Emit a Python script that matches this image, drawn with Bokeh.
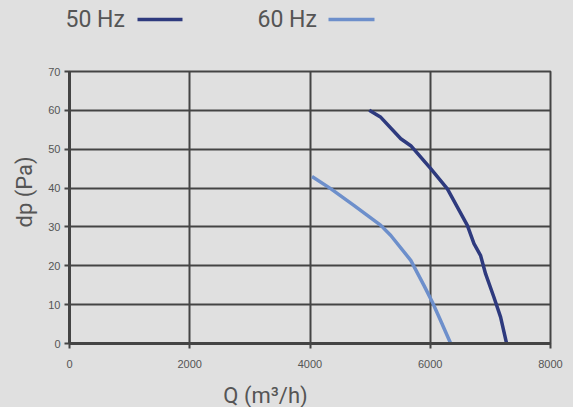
from bokeh.plotting import figure
from bokeh.layouts import column
from bokeh.models import FixedTicker, Range1d, Title
from bokeh.core.properties import value
from bokeh.embed import file_html
from bokeh.resources import INLINE

q_50 = [4985, 5178, 5510, 5676, 6008, 6285, 6451, 6617, 6727, 6838, 6921, 7059, 7170, 7270]
dp_50 = [60, 58.2, 52.7, 50.9, 45, 39.8, 35.1, 30.4, 25.7, 22.6, 17.9, 11.9, 6.8, 0]
q_60 = [4033, 4349, 4735, 5178, 5344, 5676, 5897, 6036, 6146, 6340]
dp_60 = [43, 39.8, 35.5, 30.4, 27.8, 21.4, 14.9, 10.6, 6.8, 0]

series_names = ["50 Hz", "60 Hz"]
series_colors = ["#2e3a7e", "#6d8fcb"]
x_ticks = [0, 2000, 4000, 6000, 8000]
y_ticks = [0, 10, 20, 30, 40, 50, 60, 70]
x_label = "Q (m³/h)"
y_label = "dp (Pa)"

BG = "#e0e0e0"
GRID = "#444444"
TXT = "#555555"
W = 573
LEG_H = 40
BOT_H = 29
MAIN_H = 407 - LEG_H - BOT_H


def strip(height):
    f = figure(width=W, height=height, output_backend="svg", toolbar_location=None,
               x_axis_location=None, y_axis_location=None,
               min_border=0, min_border_left=0, min_border_right=0,
               min_border_top=0, min_border_bottom=0)
    f.grid.visible = False
    f.outline_line_color = None
    f.background_fill_color = BG
    f.border_fill_color = BG
    aligned = True
    try:
        f.frame_align = False
        aligned = False
    except Exception:
        pass
    if aligned:
        f.x_range = Range1d(68, W - 23)
    else:
        f.x_range = Range1d(0, W)
    f.y_range = Range1d(height, 0)
    return f


# ---- legend strip (pixel-like coordinates) ----
leg = strip(LEG_H)
leg_text_x = [65, 257]
leg_line_x0 = [137, 328]
leg_line_x1 = [182, 374]
leg_y = [19, 19]
leg.text(x=leg_text_x, y=leg_y, text=series_names, text_font=value("Roboto"),
         text_font_size="23px", text_color=TXT, text_baseline="middle", text_align="left")
leg.segment(x0=leg_line_x0, y0=leg_y, x1=leg_line_x1, y1=leg_y,
            line_color=series_colors, line_width=3.5)

# ---- x axis title strip ----
bot = strip(BOT_H)
bot.text(x=[265], y=[17], text=[x_label], text_font=value("Roboto"),
         text_font_size="22px", text_color=TXT, text_baseline="middle", text_align="center")

# ---- main chart ----
p = figure(width=W, height=MAIN_H, output_backend="svg", toolbar_location=None,
           x_range=Range1d(0, 8000), y_range=Range1d(0, 70),
           min_border_left=68, min_border_right=23, min_border_top=71 - LEG_H,
           min_border_bottom=MAIN_H - (71 - LEG_H) - 272)
try:
    p.frame_align = False
except Exception:
    pass
p.background_fill_color = BG
p.border_fill_color = BG
p.outline_line_color = GRID
p.outline_line_width = 2

for ax in (p.xaxis[0], p.yaxis[0]):
    ax.axis_line_color = GRID
    ax.axis_line_width = 3
    ax.major_tick_line_color = GRID
    ax.major_tick_line_width = 2
    ax.major_tick_out = 5
    ax.major_tick_in = 0
    ax.minor_tick_line_color = None
    ax.major_label_text_color = TXT
    ax.major_label_text_font = "Liberation Sans"
    ax.major_label_text_font_size = "11px"
p.xaxis[0].ticker = FixedTicker(ticks=x_ticks)
p.yaxis[0].ticker = FixedTicker(ticks=y_ticks)
p.xaxis[0].major_label_standoff = 11
p.yaxis[0].major_label_standoff = 4

p.xgrid.ticker = FixedTicker(ticks=x_ticks)
p.ygrid.ticker = FixedTicker(ticks=y_ticks)
for g in (p.xgrid[0], p.ygrid[0]):
    g.grid_line_color = GRID
    g.grid_line_width = 2

p.line(q_50, dp_50, line_color=series_colors[0], line_width=3.5)
p.line(q_60, dp_60, line_color=series_colors[1], line_width=3.5)

p.add_layout(Title(text=y_label, align="left", offset=116, text_font="Roboto",
                   text_font_size="22px", text_color=TXT, text_font_style="normal",
                   standoff=18), "left")

html = file_html(column(leg, p, bot, spacing=0), INLINE)
html = html.replace("</head>", "<style>body{background:#e0e0e0;}</style></head>", 1)
open("out.html", "w").write(html)
